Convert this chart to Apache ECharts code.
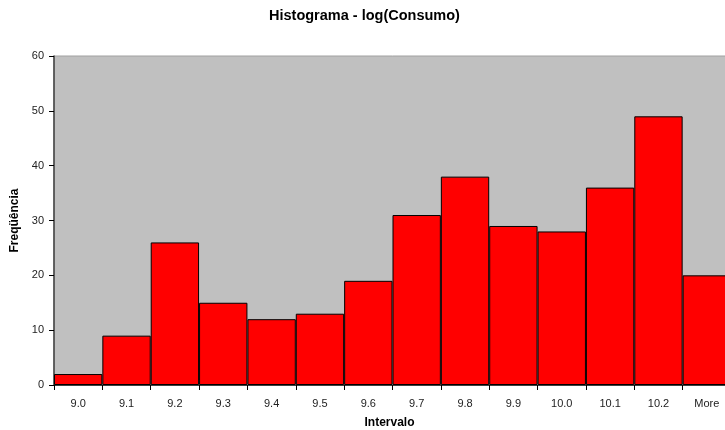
<!DOCTYPE html>
<html>
<head>
<meta charset="utf-8">
<script src="https://cdn.jsdelivr.net/npm/echarts@6/dist/echarts.min.js"></script>
<style>
  html, body { margin: 0; padding: 0; background: #fff; overflow: hidden; }
  #chart { width: 731px; height: 430px; }
</style>
</head>
<body>
<div id="chart"></div>
<script>
// intervalos do histograma
const categories = ["9.0", "9.1", "9.2", "9.3", "9.4", "9.5", "9.6", "9.7", "9.8", "9.9", "10.0", "10.1", "10.2", "More"];
const frequencias = [2, 9, 26, 15, 12, 13, 19, 31, 38, 29, 28, 36, 49, 20];
const yTicks = [0, 10, 20, 30, 40, 50, 60];

const font = "Liberation Sans, Arial, sans-serif";

// o grafico original passa um pouco da borda direita, por isso o div tem 731px
const chart = echarts.init(document.getElementById("chart"));
chart.setOption({
  animation: false,
  title: {
    text: "Histograma - log(Consumo)",
    left: 264,
    top: 3,
    textStyle: { fontFamily: font, fontSize: 14.5, fontWeight: "bold", color: "#000" },
  },
  grid: {
    left: 54,
    right: 0,
    top: 56,
    bottom: 45,
    outerBoundsMode: "none",
    containLabel: false,
    show: true,
    backgroundColor: "#c0c0c0",
    borderWidth: 1,
    borderColor: "#a0a0a0",
  },
  xAxis: {
    type: "category",
    data: categories,
    name: "Intervalo",
    nameLocation: "middle",
    nameGap: 32,
    nameTextStyle: { fontFamily: font, fontSize: 12, fontWeight: "bold", color: "#000", padding: [0, 0, 0, -6] },
    axisLine: { lineStyle: { color: "#404040", width: 1 } },
    axisTick: { show: true, length: 5, lineStyle: { color: "#000" } },
    axisLabel: { fontFamily: font, fontSize: 11, color: "#222", margin: 13 },
  },
  yAxis: {
    type: "value",
    min: 0,
    max: yTicks[yTicks.length - 1],
    interval: 10,
    name: "Freqüência",
    nameLocation: "middle",
    nameGap: 33,
    nameRotate: 90,
    nameTextStyle: { fontFamily: font, fontSize: 12, fontWeight: "bold", color: "#000" },
    axisLine: { show: true, lineStyle: { color: "#404040", width: 1.5 } },
    axisTick: { show: true, length: 5, lineStyle: { color: "#000" } },
    axisLabel: { fontFamily: font, fontSize: 11, color: "#222", margin: 10 },
    splitLine: { show: false },
  },
  series: [
    {
      type: "bar",
      data: frequencias,
      barWidth: "100%",
      barGap: "0%",
      itemStyle: { color: "#ff0000", borderColor: "#000", borderWidth: 1 },
    },
  ],
});
</script>
</body>
</html>
